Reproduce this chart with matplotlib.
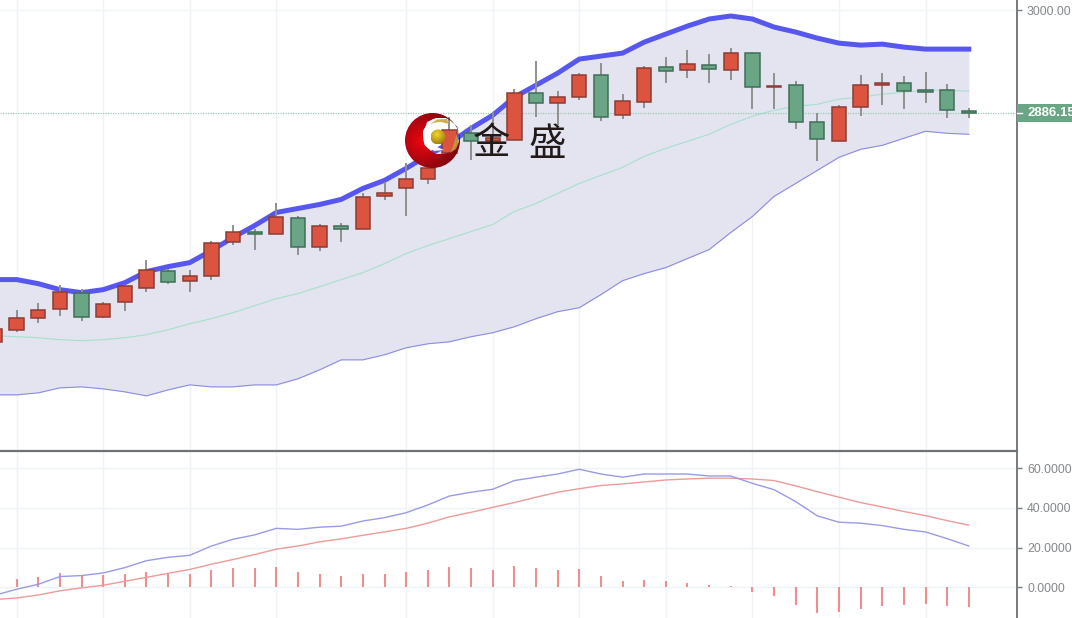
import numpy as np
import matplotlib
matplotlib.use("Agg")
import matplotlib.pyplot as plt
from matplotlib.path import Path
from matplotlib.patches import PathPatch, Circle, Rectangle, Polygon

opens = [2634.2,2647.5,2660.8,2670.7,2688.4,2661.9,2678.4,2693.9,2712.7,2701.6,2707.2,2744.7,2755.8,2753.6,2770.2,2739.2,2762.4,2759.1,2794.5,2803.3,2813.3,2842.0,2864.1,2855.2,2856.3,2908.3,2897.2,2903.9,2928.2,2884.0,2898.3,2937.0,2933.7,2939.2,2933.7,2952.5,2914.9,2917.1,2876.2,2855.2,2892.8,2917.1,2919.3,2911.6,2911.6,2888.4]
closes = [2648.6,2660.8,2669.6,2689.5,2661.9,2676.2,2696.1,2713.8,2700.5,2707.2,2743.6,2755.8,2753.6,2771.3,2739.2,2762.4,2759.1,2793.4,2797.8,2813.3,2825.4,2867.4,2855.2,2858.6,2908.3,2897.2,2903.9,2928.2,2881.8,2899.4,2935.9,2932.6,2940.3,2934.8,2952.5,2914.9,2916.0,2876.2,2857.4,2892.8,2917.1,2919.3,2910.5,2909.4,2889.5,2886.2]
highs = [2655.2,2669.6,2677.3,2697.2,2692.8,2678.4,2696.1,2724.9,2714.9,2713.8,2745.8,2763.5,2759.1,2786.7,2772.4,2764.6,2765.7,2797.8,2809.9,2831.0,2834.3,2881.8,2872.9,2887.3,2912.7,2943.6,2910.5,2930.4,2941.4,2907.2,2938.1,2948.1,2955.8,2951.4,2958.0,2953.6,2930.4,2921.5,2886.2,2895.0,2928.2,2930.4,2927.1,2931.5,2918.2,2891.7]
lows = [2629.8,2645.3,2655.2,2663.0,2657.4,2660.8,2668.5,2689.5,2698.3,2689.5,2702.8,2741.4,2735.9,2753.6,2730.4,2734.8,2744.7,2759.1,2790.0,2772.4,2807.7,2842.0,2834.3,2855.2,2856.3,2881.8,2872.9,2900.6,2877.3,2879.5,2891.7,2919.3,2924.9,2919.3,2922.7,2890.6,2890.6,2868.5,2833.2,2855.2,2882.9,2895.0,2890.6,2897.2,2880.7,2880.7]

band_upper = [2702.8,2702.8,2698.3,2691.7,2688.4,2691.7,2699.4,2711.6,2717.1,2721.5,2734.8,2749.2,2762.4,2776.8,2781.2,2785.6,2791.2,2803.3,2812.2,2825.4,2839.8,2853.1,2869.6,2884.0,2903.9,2917.1,2930.4,2945.9,2949.2,2952.5,2964.6,2973.5,2982.3,2990.1,2993.4,2990.1,2981.2,2975.7,2969.0,2963.5,2961.3,2962.4,2959.1,2956.9,2956.9,2956.9]
band_mid = [2640.9,2639.8,2638.7,2636.5,2635.4,2636.5,2638.7,2642.0,2647.5,2654.1,2659.7,2666.3,2674.0,2681.8,2687.3,2695.0,2702.8,2710.5,2720.4,2731.5,2740.3,2748.0,2755.8,2763.5,2777.9,2786.7,2797.8,2808.8,2817.7,2826.5,2838.7,2847.5,2855.2,2863.0,2874.0,2882.9,2889.5,2893.9,2896.1,2901.7,2903.9,2907.2,2909.4,2911.6,2911.6,2910.5]
band_lower = [2575.7,2575.7,2577.9,2583.4,2584.5,2582.3,2579.0,2574.6,2581.2,2586.7,2584.5,2584.5,2586.7,2586.7,2593.4,2603.3,2614.3,2614.3,2619.9,2627.6,2632.0,2634.2,2639.8,2644.2,2650.8,2659.7,2667.4,2671.8,2686.2,2701.6,2709.4,2716.0,2726.0,2735.9,2754.7,2772.4,2794.5,2808.8,2823.2,2837.6,2846.4,2850.8,2858.6,2866.3,2864.1,2863.0]

dif = [-4,-1,1.5,5.4,5.9,7.2,9.9,13.4,15.1,16.1,20.8,24.2,26.4,29.7,29.2,30.3,30.8,33.4,35.1,37.6,41.5,46,47.9,49.4,53.8,55.5,57.1,59.5,57.1,55.5,57.1,57.1,57.1,56.1,56.1,52.4,49.2,43.2,36,32.8,32.3,31.1,29.2,27.9,24.5,20.8]
dea = [-6.2,-5.4,-3.9,-1.8,-0.3,1,3,5,7,9,11.6,14,16.5,19.2,20.8,22.9,24.4,26.2,27.9,29.7,32.3,35.5,37.8,40.3,42.7,45.4,47.9,49.7,51.3,52.1,53.1,54.1,54.6,55,55,54.6,53.8,51.1,48.2,45.4,42.7,40.5,38.2,36.1,33.6,31.3]
macd_hist = [3,4,5,7,6,6,6.9,7.9,7.4,6.9,8.7,9.7,9.7,10.4,7.9,6.9,5.9,6.6,6.9,7.6,8.7,10.4,9.7,8.7,10.8,9.9,8.9,9.4,5.5,3,3.5,3,2,1,0.7,-2.2,-4.5,-9.1,-12.9,-12.4,-11.1,-9.4,-9.1,-8.6,-9.4,-9.9]

grid_index = [1,5,9,13,19,23,27,31,35,39,43]
last_price = 2886.15

idx = np.arange(len(opens))
plt.rcParams['font.family'] = ['Liberation Sans', 'DejaVu Sans']

W, H = 1072, 618
fig = plt.figure(figsize=(W/100, H/100), dpi=100, facecolor='white')
AX_R = 1017
SEP = 451
ax = fig.add_axes([0, (H-SEP)/H, AX_R/W, SEP/H])
ax2 = fig.add_axes([0, 0, AX_R/W, (H-SEP)/H])

step = 21.64
xl = (5/step, 5/step + AX_R/step)
GRID = '#edf3f7'; AXC = '#777b80'; TXT = '#85888c'
RED = '#dc5440'; RED_E = '#8c3d35'; GRN = '#6aa685'; GRN_E = '#3f6f58'

for a in (ax, ax2):
    a.set_xlim(*xl)
    a.set_xticks(grid_index)
    a.set_xticklabels([])
    a.tick_params(axis='x', length=0)
    a.grid(True, color=GRID, lw=1.0)
    a.set_axisbelow(True)
    a.yaxis.tick_right()
    a.tick_params(axis='y', length=3.6, width=1, color=AXC, labelcolor=TXT, labelsize=8.9, pad=3.6)
    for s in ('left', 'top', 'bottom'):
        a.spines[s].set_visible(False)
    a.spines['right'].set_color(AXC)
    a.spines['right'].set_linewidth(1.4)

ax.set_ylim(2513.8, 3011.05)
ax.set_yticks([3000])
ax.set_yticklabels(['3000.00'])
ax.fill_between(idx, band_lower, band_upper, color='#e4e4f1', lw=0, zorder=1)
ax.plot(idx, band_mid, color='#a6e0cb', lw=0.8, zorder=2)
ax.plot(idx, band_lower, color='#8c8ce4', lw=0.8, zorder=2)
ax.axhline(last_price, color='#9cc9b0', lw=0.9, ls=(0, (1, 1)), zorder=2)
ax.plot(idx, band_upper, color='#5757ee', lw=3.6, zorder=3, solid_capstyle='projecting')

for i in idx:
    up = closes[i] >= opens[i]
    fc, ec = (RED, RED_E) if up else (GRN, GRN_E)
    ax.vlines(i, lows[i], highs[i], color='#909090', lw=1.4, zorder=4)
    ax.bar(i, abs(closes[i]-opens[i]), bottom=min(opens[i], closes[i]), width=0.66,
           color=fc, edgecolor=ec, lw=1.1, zorder=5)

ax2.set_ylim(-15.5, 68.7)
ax2.set_yticks([0, 20, 40, 60])
ax2.set_yticklabels(['0.0000', '20.0000', '40.0000', '60.0000'])
ax2.vlines(idx[1:], 0, macd_hist[1:], color='#ee8e8e', lw=1.5, zorder=3)
ax2.plot(idx, dea, color='#ee9a9a', lw=1.0, zorder=4)
ax2.plot(idx, dif, color='#9a9ae8', lw=1.0, zorder=4)

# overlay in pixel coordinates: separator, price tag, logo
ov = fig.add_axes([0, 0, 1, 1], facecolor='none')
ov.set_xlim(0, W); ov.set_ylim(H, 0); ov.axis('off')
ov.plot([0, AX_R], [SEP, SEP], color='#6e7175', lw=1.6, zorder=1)
ov.add_patch(Rectangle((AX_R, 104), W-AX_R, 17.5, fc=GRN, ec='none', zorder=2))
ov.plot([AX_R, AX_R+5], [113, 113], color='white', lw=1, zorder=3)
ov.text(1027, 113, f'{last_price:.3f}', color='white', fontsize=9.5, fontweight='bold',
        va='center', ha='left', zorder=3, clip_on=True)

cx, cy, r = 432.5, 140.5, 27.5
hx, hy, hr = 441.0, 136.0, 18.0
outer = Path.circle((cx, cy), r)
inner = Path.circle((hx, hy), hr)
cres = Path(np.vstack([outer.vertices, inner.vertices[::-1]]),
            np.concatenate([outer.codes, inner.codes]))
clip = PathPatch(cres, fc='none', ec='none', zorder=5)
ov.add_patch(clip)
yy, xx = np.mgrid[0:1:120j, 0:1:120j]
d = np.hypot(xx-0.33, yy-0.5)
t = np.clip(d/0.62, 0, 1)
grad = np.dstack([0.95-0.45*t, 0.02+0*t, 0.06+0*t])
im = ov.imshow(grad, extent=(cx-r, cx+r, cy+r, cy-r), zorder=5, aspect='auto', interpolation='bilinear')
im.set_clip_path(clip)
ov.set_xlim(0, W); ov.set_ylim(H, 0)
ov.add_patch(Circle((hx-3, hy), hr-4, fc='white', ec='none', alpha=0.0, zorder=5))
ov.add_patch(Polygon([(424, 132), (427, 122), (436, 118), (445, 119), (436, 122), (431, 129),
                      (431, 140), (437, 147), (444, 150), (434, 151), (426, 144)],
                     fc='white', ec='none', alpha=0.95, zorder=6))
ov.add_patch(Polygon([(430, 124), (437, 119.5), (447, 119), (449, 124), (441, 122), (435, 122.5)],
                     fc='#c6a93a', ec='none', alpha=0.9, zorder=7))
ov.add_patch(Polygon([(456.5, 134), (459, 142), (456, 149), (450, 153), (453, 147), (455, 140)],
                     fc='#c6a93a', ec='none', alpha=0.8, zorder=7))
shade = 1-np.clip(np.hypot(xx-0.4, yy-0.35)/0.7, 0, 1)
ball = np.dstack([0.62+0.33*shade, 0.48+0.37*shade, 0.05+0.12*shade])
bc = Circle((438, 137), 7.5, fc='none', ec='none', zorder=8)
ov.add_patch(bc)
bim = ov.imshow(ball, extent=(430.5, 445.5, 144.5, 129.5), zorder=8, aspect='auto', interpolation='bilinear')
bim.set_clip_path(bc)
ov.set_xlim(0, W); ov.set_ylim(H, 0)

cjk = ['Noto Sans CJK SC', 'DejaVu Sans']
ov.text(492, 144, '金', family=cjk, fontsize=27, color='#221a18', ha='center', va='center', zorder=9)
ov.text(547, 144, '盛', family=cjk, fontsize=27, color='#221a18', ha='center', va='center', zorder=9)

fig.savefig('out.png', dpi=100)
